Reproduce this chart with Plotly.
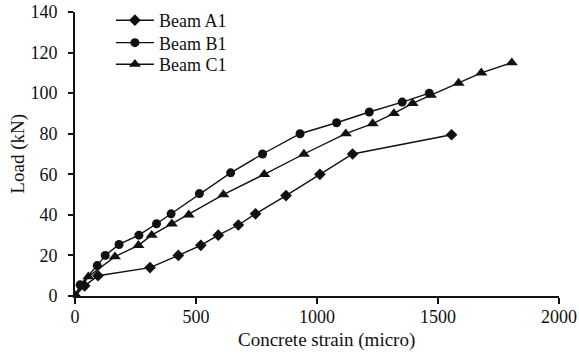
import plotly.graph_objects as go

a1_x = [0, 40, 95, 310, 427, 520, 592, 675, 746, 872, 1012, 1147, 1556]
a1_y = [0, 5, 10, 14, 20, 25, 30, 35, 40.5, 49.5, 60, 70, 79.5]

b1_x = [0, 21, 92, 125, 182, 264, 337, 397, 514, 643, 775, 930, 1081, 1216, 1352, 1464]
b1_y = [0, 5.5, 15, 20, 25.4, 30, 35.6, 40.5, 50.5, 60.7, 70, 80, 85.4, 90.7, 95.6, 100]

c1_x = [0, 55, 165, 262, 317, 400, 470, 613, 782, 946, 1119, 1230, 1318, 1395, 1471, 1585, 1679, 1805]
c1_y = [0, 9.5, 19.4, 25, 30, 35.6, 40, 50, 60, 70, 80, 85, 90, 95, 99, 105, 110, 115]

names = ["Beam A1", "Beam B1", "Beam C1"]
symbols = ["diamond", "circle", "triangle-up"]
sizes = [9, 9, 10.5]
legend_ids = ["legend", "legend2", "legend3"]
legend_y = [0.970, 0.891, 0.815]

FONT = "Liberation Serif, Times New Roman, serif"
fig = go.Figure()
for name, xs, ys, sym, sz, lid in zip(names, [a1_x, b1_x, c1_x], [a1_y, b1_y, c1_y],
                                      symbols, sizes, legend_ids):
    fig.add_trace(go.Scatter(
        x=xs, y=ys, name=name, mode="lines+markers", legend=lid,
        line=dict(color="#111111", width=1.4),
        marker=dict(symbol=sym, size=sz, color="#111111"),
    ))

legend_style = dict(x=0.0742, xanchor="left", yanchor="middle",
                    bgcolor="rgba(0,0,0,0)", font=dict(size=18, family=FONT),
                    itemwidth=38, borderwidth=0)

fig.update_layout(
    width=579, height=354,
    margin=dict(l=75, r=20, t=12, b=58, autoexpand=False),
    paper_bgcolor="white", plot_bgcolor="white",
    font=dict(family=FONT, size=18, color="#111111"),
    showlegend=True,
    legend=dict(y=legend_y[0], **legend_style),
    legend2=dict(y=legend_y[1], **legend_style),
    legend3=dict(y=legend_y[2], **legend_style),
    xaxis=dict(range=[0, 2000], tickvals=[0, 500, 1000, 1500, 2000],
               showline=True, linecolor="#111111", linewidth=2,
               ticks="outside", ticklen=6, tickwidth=2, tickcolor="#111111",
               showgrid=False, zeroline=False, automargin=False,
               tickfont=dict(size=18), ticklabelstandoff=-3),
    yaxis=dict(range=[0, 140], tickvals=[0, 20, 40, 60, 80, 100, 120, 140],
               showline=True, linecolor="#111111", linewidth=2,
               ticks="outside", ticklen=5, tickwidth=2, tickcolor="#111111",
               showgrid=False, zeroline=False, automargin=False,
               tickfont=dict(size=18), ticklabelstandoff=7),
    annotations=[
        dict(text="Concrete strain (micro)", xref="paper", yref="paper",
             x=0.52, y=-0.155, xanchor="center", yanchor="middle",
             showarrow=False, font=dict(size=19, family=FONT)),
        dict(text="Load (kN)", xref="paper", yref="paper", textangle=-90,
             x=-0.1185, y=0.5, xanchor="center", yanchor="middle",
             showarrow=False, font=dict(size=19, family=FONT)),
    ],
)

fig.write_html("out.html")
